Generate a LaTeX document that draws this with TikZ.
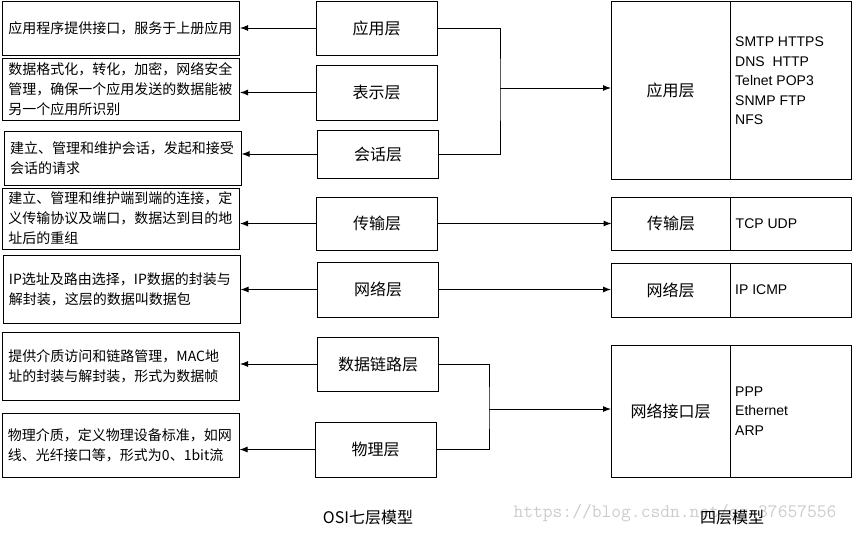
\documentclass[tikz,border=0pt]{standalone}
\usepackage{fontspec}
\setmainfont{Noto Sans CJK SC}
\newfontfamily\latinfont{Liberation Sans}
\usetikzlibrary{arrows,arrows.meta,shapes,positioning}
\pgfdeclarelayer{background}
\pgfsetlayers{background,main}
\tikzstyle{desc}=[draw,line width=1pt,text width=225pt,align=left,inner sep=0pt,minimum width=237pt,font=\fontsize{14}{20}\selectfont]
\tikzstyle{layer}=[draw,line width=1pt,minimum width=121pt,font=\fontsize{16}{20}\selectfont]
\tikzstyle{tcp layer}=[layer,minimum width=119pt,outer sep=0pt]
\tikzstyle{proto}=[draw,line width=1pt,minimum width=121pt,outer sep=0pt]
\tikzstyle{proto text}=[align=left,inner sep=0pt,font=\latinfont\fontsize{14}{19.5}\selectfont]
\tikzstyle{edge}=[draw,line width=1pt,-{Latex[length=8pt,width=6pt]}]
\tikzstyle{link}=[draw,line width=1pt]
\tikzstyle{title}=[font=\fontsize{16}{20}\selectfont]
\tikzstyle{watermark}=[text=black!20,inner sep=0pt,font=\ttfamily\fontsize{19}{20}\selectfont]

\begin{document}
\begin{tikzpicture}[x=1pt,y=-1pt]
    \useasboundingbox (0,0) rectangle (852,533);
    % OSI description boxes
    \foreach \pos/\name/\h/\txt in {{(121,28)/d1/54/{应用程序提供接口，服务于上册应用}},
        {(121,89)/d2/62/{数据格式化，转化，加密，网络安全\\管理，确保一个应用发送的数据能被\\另一个应用所识别}},
        {(122.5,158)/d3/54/{建立、管理和维护会话，发起和接受\\会话的请求}},
        {(121,218.5)/d4/61/{建立、管理和维护端到端的连接，定\\义传输协议及端口，数据达到目的地\\址后的重组}},
        {(121.5,289)/d5/68/{IP选址及路由选择，IP数据的封装与\\解封装，这层的数据叫数据包}},
        {(121,366)/d6/68/{提供介质访问和链路管理，MAC地\\址的封装与解封装，形式为数据帧}},
        {(120.5,445)/d7/64/{物理介质，定义物理设备标准，如网\\线、光纤接口等，形式为0、1bit流}}}
        \node[desc,minimum height=\h pt] (\name) at \pos {\txt};

    % OSI seven layers
    \foreach \pos/\name/\h/\txt in {{(376.5,28)/m1/54/应用层}, {(376.5,92.5)/m2/55/表示层},
        {(378,154)/m3/48/会话层}, {(377,223.5)/m4/53/传输层}, {(378,289.5)/m5/55/网络层},
        {(378,364)/m6/54/数据链路层}, {(375.5,449.5)/m7/55/物理层}}
        \node[layer,minimum height=\h pt] (\name) at \pos {\txt};

    % four layer model
    \foreach \pos/\name/\h/\txt in {{(670.5,90)/r1/178/应用层}, {(671,223.5)/r2/53/传输层},
        {(670.5,290)/r3/54/网络层}, {(670.5,411)/r4/132/网络接口层}}
    {
        \node[tcp layer,minimum height=\h pt] (\name) at \pos {\txt};
        \node[proto,minimum height=\h pt,right=0pt of \name] (\name p) {};
    }
    \node[proto text,anchor=west] (t1) at ([xshift=5pt,yshift=9pt]r1p.west) {SMTP HTTPS\\DNS\ \ HTTP\\Telnet POP3\\SNMP FTP\\NFS};
    \node[proto text,anchor=west] (t2) at ([xshift=5pt]r2p.west) {TCP UDP};
    \node[proto text,anchor=west] (t3) at ([xshift=5pt]r3p.west) {IP ICMP};
    \node[proto text,anchor=west] (t4) at ([xshift=5pt]r4p.west) {PPP\\Ethernet\\ARP};

    % Connect layers with descriptions
    \foreach \source/\dest in {m1/d1, m2/d2, m3/d3, m4/d4, m5/d5, m6/d6, m7/d7}
        \path[edge] (\source.west) -- (\source.west -| \dest.east);

    % Map OSI layers to the four layers
    \coordinate (j1) at (500,88);
    \coordinate (j2) at (489,409);
    \path[link] (m1.east) -| (j1) |- (m3.east);
    \path[edge] (j1) -- (j1 -| r1.west);
    \path[edge] (m4.east) -- (m4.east -| r2.west);
    \path[edge] (m5.east) -- (m5.east -| r3.west);
    \path[link] (m6.east) -| (j2) |- (m7.east);
    \path[edge] (j2) -- (j2 -| r4.west);

    \node[title] (osi) at (368,517) {OSI七层模型};
    \node[title] (four) at (732,517) {四层模型};
    \begin{pgfonlayer}{background}
        \node[watermark] (wm) at (675,513) {https://blog.csdn.net/qq\_37657556};
    \end{pgfonlayer}
\end{tikzpicture}
\end{document}
